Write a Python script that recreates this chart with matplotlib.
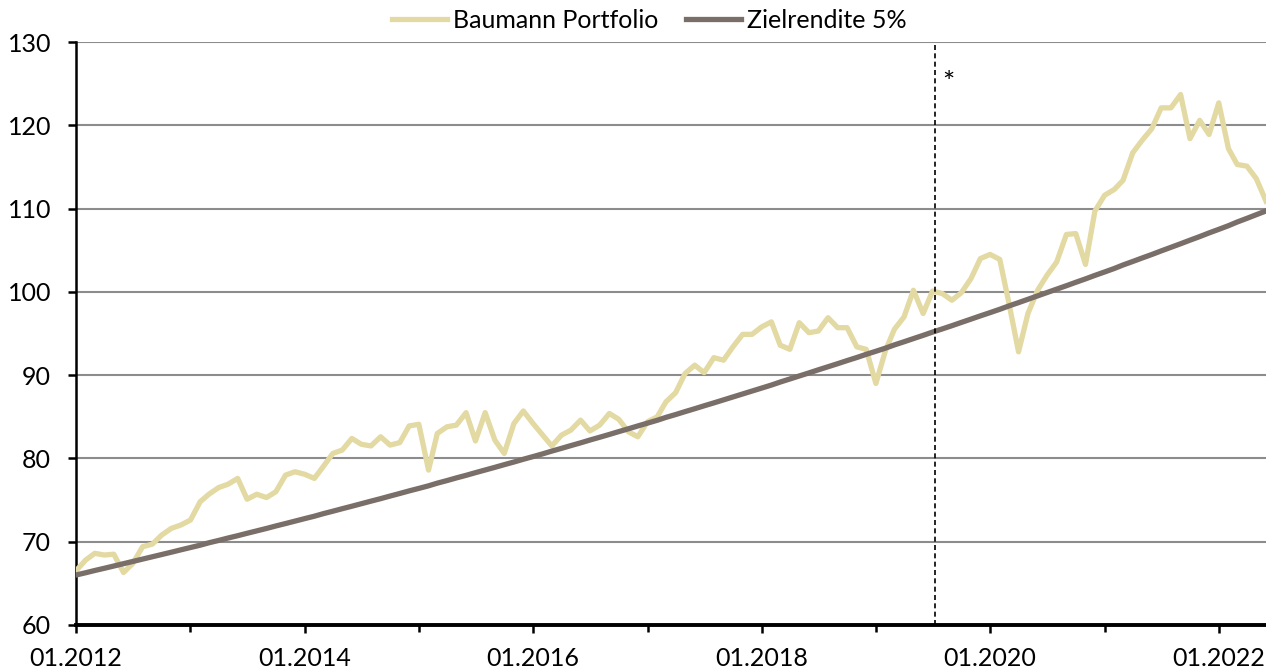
import matplotlib
matplotlib.use("Agg")
import matplotlib.pyplot as plt
import matplotlib.dates as mdates
import pandas as pd

plt.rcParams['font.family'] = ['Lato', 'DejaVu Sans']

# monthly values, 01.2012 - 06.2022
portfolio = [
    66.5, 67.8, 68.6, 68.4, 68.5, 66.3, 67.4, 69.4, 69.7, 70.8, 71.6, 72.0,
    72.6, 74.8, 75.7, 76.5, 76.9, 77.6, 75.1, 75.7, 75.3, 76.0, 78.0, 78.4,
    78.1, 77.6, 79.0, 80.6, 81.0, 82.4, 81.7, 81.5, 82.6, 81.6, 81.9, 83.9,
    84.1, 78.6, 83.0, 83.8, 84.0, 85.5, 82.1, 85.5, 82.2, 80.6, 84.2, 85.7,
    84.2, 82.8, 81.5, 82.8, 83.4, 84.6, 83.3, 84.0, 85.4, 84.7, 83.2, 82.6,
    84.4, 85.0, 86.8, 87.9, 90.2, 91.2, 90.3, 92.1, 91.8, 93.4, 94.9, 94.9,
    95.8, 96.4, 93.6, 93.1, 96.3, 95.1, 95.3, 96.9, 95.7, 95.7, 93.4, 93.1,
    89.0, 93.0, 95.5, 97.0, 100.2, 97.4, 100.1, 99.8, 99.0, 99.9, 101.6, 104.0,
    104.5, 103.9, 98.7, 92.8, 97.4, 100.2, 102.0, 103.6, 106.9, 107.0, 103.3, 109.7,
    111.6, 112.3, 113.4, 116.7, 118.2, 119.6, 122.1, 122.1, 123.7, 118.4, 120.6, 118.9,
    122.7, 117.2, 115.3, 115.1, 113.6, 110.9,
]
target = [
    66.0, 66.27, 66.54, 66.81, 67.08, 67.36, 67.63, 67.91, 68.19, 68.46, 68.74, 69.02,
    69.30, 69.58, 69.87, 70.15, 70.44, 70.72, 71.01, 71.30, 71.59, 71.89, 72.18, 72.47,
    72.77, 73.06, 73.36, 73.66, 73.96, 74.26, 74.56, 74.87, 75.17, 75.48, 75.79, 76.10,
    76.40, 76.71, 77.03, 77.34, 77.66, 77.97, 78.29, 78.61, 78.93, 79.25, 79.57, 79.90,
    80.22, 80.55, 80.88, 81.21, 81.54, 81.87, 82.21, 82.54, 82.88, 83.22, 83.56, 83.90,
    84.24, 84.58, 84.93, 85.27, 85.62, 85.97, 86.32, 86.67, 87.03, 87.38, 87.74, 88.09,
    88.45, 88.81, 89.17, 89.54, 89.90, 90.27, 90.64, 91.01, 91.38, 91.75, 92.12, 92.50,
    92.87, 93.25, 93.63, 94.01, 94.39, 94.78, 95.17, 95.55, 95.94, 96.33, 96.73, 97.12,
    97.51, 97.91, 98.31, 98.71, 99.11, 99.52, 99.92, 100.33, 100.74, 101.15, 101.56, 101.98,
    102.39, 102.81, 103.23, 103.65, 104.07, 104.49, 104.92, 105.35, 105.78, 106.21, 106.64, 107.08,
    107.51, 107.95, 108.39, 108.83, 109.27, 109.72,
]
dates = pd.date_range("2012-01-01", periods=len(portfolio), freq="MS")
marker_date = pd.Timestamp("2019-07-01")
yticks = [60, 70, 80, 90, 100, 110, 120, 130]

fig = plt.figure(figsize=(12.66, 6.71), dpi=100)
ax = fig.add_axes([0.060, 0.0686, 0.940, 0.8687])

ax.plot(dates, portfolio, color="#E3D9A2", lw=3.8, label="Baumann Portfolio",
        solid_joinstyle="round", zorder=3)
ax.plot(dates, target, color="#7A6E69", lw=3.8, label="Zielrendite 5%", zorder=4)
ax.axvline(marker_date + pd.Timedelta(days=8), color="black", lw=1.2, ls=(0, (3, 2)), zorder=5)
ax.text(marker_date + pd.Timedelta(days=30), 125.0, "*", fontsize=21, ha="left", va="center")

ax.set_xlim(dates[0], dates[-1])
ax.set_ylim(60, 130)
ax.set_yticks(yticks)
ax.yaxis.grid(True, color="#8c8c8c", lw=1.5)
ax.set_axisbelow(True)

ax.xaxis.set_major_locator(mdates.YearLocator(2))
ax.xaxis.set_minor_locator(mdates.YearLocator(1))
ax.xaxis.set_major_formatter(mdates.DateFormatter("%m.%Y"))

for s in ["top", "right"]:
    ax.spines[s].set_visible(False)
ax.spines["left"].set_linewidth(1.8)
ax.spines["bottom"].set_linewidth(2.8)
ax.tick_params(axis="both", which="major", labelsize=18, width=1.8, length=6, direction="out")
ax.tick_params(axis="x", which="major", pad=10)
ax.tick_params(axis="x", which="minor", width=1.8, length=5)
ax.tick_params(axis="y", pad=12)

ax.legend(loc="upper center", bbox_to_anchor=(0.482, 1.095), ncol=2, frameon=False,
          fontsize=18, handlelength=2.2, handletextpad=0.25, columnspacing=1.1)

fig.savefig("out.png", dpi=100)
